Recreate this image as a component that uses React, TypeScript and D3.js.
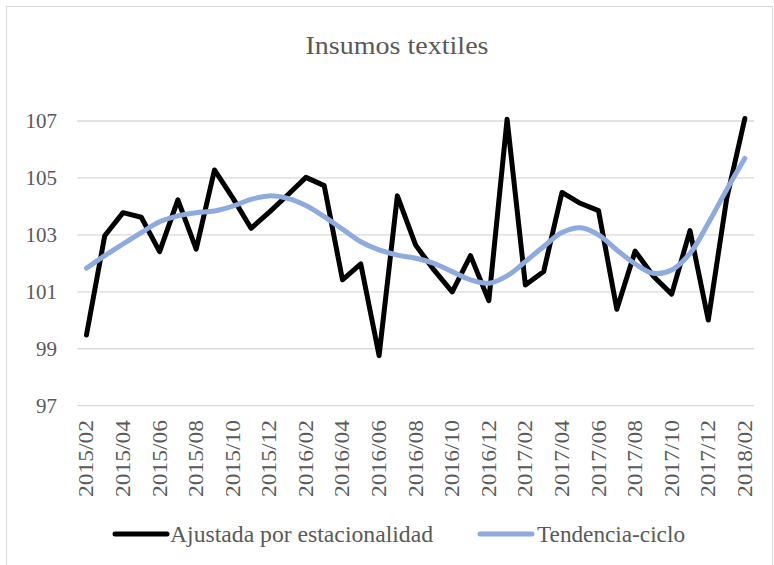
import React from "react";
import * as d3 from "d3";

const categories: string[] = [
  "2015/02", "2015/03", "2015/04", "2015/05", "2015/06", "2015/07", "2015/08", "2015/09", "2015/10", "2015/11", "2015/12",
  "2016/01", "2016/02", "2016/03", "2016/04", "2016/05", "2016/06", "2016/07", "2016/08", "2016/09", "2016/10", "2016/11", "2016/12",
  "2017/01", "2017/02", "2017/03", "2017/04", "2017/05", "2017/06", "2017/07", "2017/08", "2017/09", "2017/10", "2017/11", "2017/12",
  "2018/01", "2018/02",
];

const ajustada: number[] = [
  99.48, 102.97, 103.78, 103.62, 102.41, 104.23, 102.5, 105.28, 104.3, 103.23, 103.8,
  104.4, 105.02, 104.73, 101.42, 101.98, 98.76, 104.37, 102.64, 101.77, 101.0, 102.27, 100.69,
  107.06, 101.24, 101.71, 104.49, 104.11, 103.85, 100.39, 102.43, 101.55, 100.92, 103.15, 100.01,
  104.25, 107.09,
];

const tendencia: number[] = [
  101.83, 102.27, 102.68, 103.08, 103.46, 103.67, 103.78, 103.84, 104.01, 104.25, 104.37,
  104.28, 104.03, 103.64, 103.2, 102.76, 102.47, 102.29, 102.18, 102.0, 101.71, 101.42, 101.3,
  101.56, 102.06, 102.59, 103.08, 103.25, 103.0, 102.47, 101.98, 101.65, 101.77, 102.35, 103.41,
  104.58, 105.69,
];

const xTickLabels: string[] = [
  "2015/02", "2015/04", "2015/06", "2015/08", "2015/10", "2015/12",
  "2016/02", "2016/04", "2016/06", "2016/08", "2016/10", "2016/12",
  "2017/02", "2017/04", "2017/06", "2017/08", "2017/10", "2017/12", "2018/02",
];

const yTicks: number[] = [97, 99, 101, 103, 105, 107];

const title = "Insumos textiles";
const seriesNames = ["Ajustada por estacionalidad", "Tendencia-ciclo"];

const W = 774;
const H = 565;
const FONT = "Liberation Serif";
const TXT = "#595959";

export default function App() {
  const x = d3.scalePoint<string>().domain(categories).range([77.3, 754]).padding(0.5);
  const y = d3.scaleLinear().domain([97, 107]).range([405.7, 121]);

  const lineA = d3
    .line<number>()
    .x((_, i) => x(categories[i]) as number)
    .y((d) => y(d));
  const lineT = d3
    .line<number>()
    .x((_, i) => x(categories[i]) as number)
    .y((d) => y(d))
    .curve(d3.curveCatmullRom.alpha(0.5));

  return (
    <svg
      width={W}
      height={H}
      style={{ position: "absolute", left: 0, top: 0, background: "#fff", fontFamily: FONT }}
    >
      <rect x={6.5} y={6.5} width={766} height={570} fill="#fff" stroke="#D9D9D9" strokeWidth={1} />
      <text x={397} y={54} textAnchor="middle" fontSize={26} fill={TXT} textLength={183} lengthAdjust="spacingAndGlyphs">
        {title}
      </text>
      {yTicks.map((t) => (
        <g key={t}>
          <line x1={77.3} x2={754} y1={y(t)} y2={y(t)} stroke="#D9D9D9" strokeWidth={1.3} />
          <text x={57} y={y(t) + 7} textAnchor="end" fontSize={21} fill={TXT}>
            {t}
          </text>
        </g>
      ))}
      {xTickLabels.map((c) => (
        <text
          key={c}
          transform={`translate(${(x(c) as number) + 7},420) rotate(-90)`}
          textAnchor="end"
          fontSize={22}
          fill={TXT}
          textLength={77}
          lengthAdjust="spacingAndGlyphs"
        >
          {c}
        </text>
      ))}
      <path d={lineA(ajustada) || ""} fill="none" stroke="#000" strokeWidth={5} strokeLinejoin="round" strokeLinecap="round" />
      <path d={lineT(tendencia) || ""} fill="none" stroke="#8FAADC" strokeWidth={5} strokeLinejoin="round" strokeLinecap="round" />
      <g>
        <line x1={115} x2={167} y1={534} y2={534} stroke="#000" strokeWidth={5} strokeLinecap="round" />
        <text x={170} y={542} fontSize={23} fill={TXT} textLength={263} lengthAdjust="spacingAndGlyphs">
          {seriesNames[0]}
        </text>
        <line x1={480} x2={532} y1={534} y2={534} stroke="#8FAADC" strokeWidth={5} strokeLinecap="round" />
        <text x={537} y={542} fontSize={23} fill={TXT} textLength={148} lengthAdjust="spacingAndGlyphs">
          {seriesNames[1]}
        </text>
      </g>
    </svg>
  );
}
